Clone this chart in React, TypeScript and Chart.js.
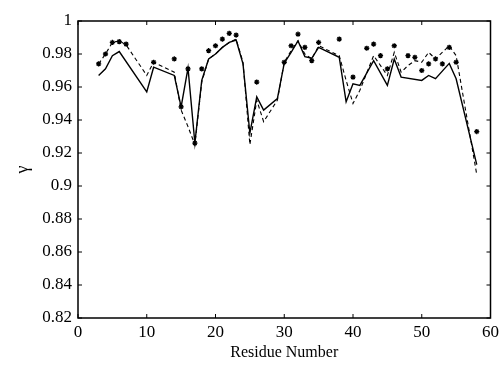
import React, { useEffect, useRef } from "react";
import { Chart, registerables } from "chart.js";

Chart.register(...registerables);

const solidX = [3, 4, 5, 6, 10, 11, 14, 15, 16, 17, 18, 19, 20, 21, 22, 23, 24, 25, 26, 27, 29, 30, 31, 32, 33, 34, 35, 38, 39, 40, 41, 43, 45, 46, 47, 50, 51, 52, 54, 55, 58];
const solidY = [0.967, 0.971, 0.979, 0.9815, 0.957, 0.972, 0.967, 0.948, 0.9715, 0.926, 0.964, 0.977, 0.98, 0.984, 0.987, 0.9885, 0.974, 0.932, 0.954, 0.946, 0.953, 0.9744, 0.981, 0.9879, 0.9784, 0.9774, 0.984, 0.978, 0.951, 0.962, 0.961, 0.976, 0.961, 0.977, 0.966, 0.964, 0.967, 0.965, 0.9743, 0.965, 0.913];

const dashedX = [3, 4, 5, 6, 7, 10, 11, 14, 15, 16, 17, 18, 19, 20, 21, 22, 23, 24, 25, 26, 27, 29, 30, 31, 32, 33, 34, 35, 38, 39, 40, 41, 43, 45, 46, 47, 48, 49, 50, 51, 52, 54, 55, 58];
const dashedY = [0.974, 0.98, 0.987, 0.988, 0.9855, 0.967, 0.975, 0.969, 0.946, 0.936, 0.925, 0.963, 0.977, 0.98, 0.984, 0.987, 0.989, 0.975, 0.925, 0.952, 0.939, 0.952, 0.975, 0.982, 0.988, 0.98, 0.977, 0.985, 0.979, 0.964, 0.95, 0.958, 0.979, 0.967, 0.981, 0.969, 0.973, 0.976, 0.975, 0.981, 0.977, 0.985, 0.979, 0.907];

const starX = [3, 4, 5, 6, 7, 11, 14, 15, 16, 17, 18, 19, 20, 21, 22, 23, 26, 30, 31, 32, 33, 34, 35, 38, 40, 42, 43, 44, 45, 46, 48, 49, 50, 51, 52, 53, 54, 55, 58];
const starY = [0.974, 0.98, 0.987, 0.9875, 0.986, 0.975, 0.977, 0.948, 0.971, 0.926, 0.971, 0.982, 0.985, 0.989, 0.9925, 0.9915, 0.963, 0.975, 0.985, 0.992, 0.984, 0.976, 0.987, 0.989, 0.966, 0.9835, 0.986, 0.979, 0.971, 0.985, 0.979, 0.978, 0.97, 0.974, 0.977, 0.974, 0.984, 0.975, 0.933];

const xTicks = [0, 10, 20, 30, 40, 50, 60];
const yTicks = [0.82, 0.84, 0.86, 0.88, 0.9, 0.92, 0.94, 0.96, 0.98, 1];

const FONT = "'Liberation Serif', 'DejaVu Serif', serif";

const zip = (xs: number[], ys: number[]) => xs.map((x, i) => ({ x, y: ys[i] }));

const framePlugin = {
  id: "frameTicks",
  afterDraw(chart: any) {
    const { ctx, chartArea } = chart;
    const xs = chart.scales.x;
    const ys = chart.scales.y;
    const { left, right, top, bottom } = chartArea;
    ctx.save();
    ctx.strokeStyle = "#000";
    ctx.lineWidth = 1.5;
    ctx.strokeRect(left, top, right - left, bottom - top);
    ctx.lineWidth = 1;
    const L = 4;
    ctx.beginPath();
    xTicks.forEach((v) => {
      const px = xs.getPixelForValue(v);
      ctx.moveTo(px, bottom);
      ctx.lineTo(px, bottom - L);
      ctx.moveTo(px, top);
      ctx.lineTo(px, top + L);
    });
    yTicks.forEach((v) => {
      const py = ys.getPixelForValue(v);
      ctx.moveTo(left, py);
      ctx.lineTo(left + L, py);
      ctx.moveTo(right, py);
      ctx.lineTo(right - L, py);
    });
    ctx.stroke();
    ctx.restore();
  },
};

export default function App() {
  const ref = useRef<HTMLCanvasElement | null>(null);
  useEffect(() => {
    if (!ref.current) return;
    const chart = new Chart(ref.current, {
      type: "scatter",
      data: {
        datasets: [
          {
            data: zip(solidX, solidY),
            showLine: true,
            borderColor: "#000",
            borderWidth: 1.4,
            pointRadius: 0,
            tension: 0,
          },
          {
            data: zip(dashedX, dashedY),
            showLine: true,
            borderColor: "#000",
            borderWidth: 1.1,
            borderDash: [4, 3],
            pointRadius: 0,
            tension: 0,
          },
          {
            data: zip(starX, starY),
            showLine: false,
            pointStyle: "star",
            pointRadius: 2.6,
            borderColor: "#000",
            backgroundColor: "#000",
            pointBorderWidth: 1.3,
          } as any,
        ],
      },
      plugins: [framePlugin],
      options: {
        animation: false,
        responsive: false,
        maintainAspectRatio: false,
        layout: { padding: { top: 21, right: 9, left: 0, bottom: 0 } },
        plugins: { legend: { display: false }, tooltip: { enabled: false } },
        scales: {
          x: {
            type: "linear",
            min: 0,
            max: 60,
            afterBuildTicks: (s: any) => {
              s.ticks = xTicks.map((v) => ({ value: v }));
            },
            afterFit: (s: any) => {
              s.height = 48;
            },
            grid: { display: false, drawTicks: false },
            border: { display: false },
            ticks: {
              color: "#000",
              font: { family: FONT, size: 17 },
              padding: 4,
              maxRotation: 0,
            },
            title: {
              display: true,
              text: "Residue Number",
              color: "#000",
              font: { family: FONT, size: 16 },
              padding: { top: 0, bottom: 4 },
            },
          },
          y: {
            type: "linear",
            min: 0.82,
            max: 1,
            afterBuildTicks: (s: any) => {
              s.ticks = yTicks.map((v) => ({ value: v }));
            },
            afterFit: (s: any) => {
              s.width = 78;
            },
            grid: { display: false, drawTicks: false },
            border: { display: false },
            ticks: {
              color: "#000",
              font: { family: FONT, size: 17 },
              padding: 6,
              callback: (v: any) => String(parseFloat(Number(v).toFixed(2))),
            },
            title: {
              display: true,
              text: "γ",
              color: "#000",
              font: { family: FONT, size: 18 },
              padding: { top: 12, bottom: 0 },
            },
          },
        },
      },
    });
    return () => chart.destroy();
  }, []);
  return (
    <div style={{ position: "fixed", left: 0, top: 0, width: 503, height: 366, background: "#fff" }}>
      <canvas ref={ref} width={503} height={366} style={{ width: 503, height: 366 }} />
    </div>
  );
}
